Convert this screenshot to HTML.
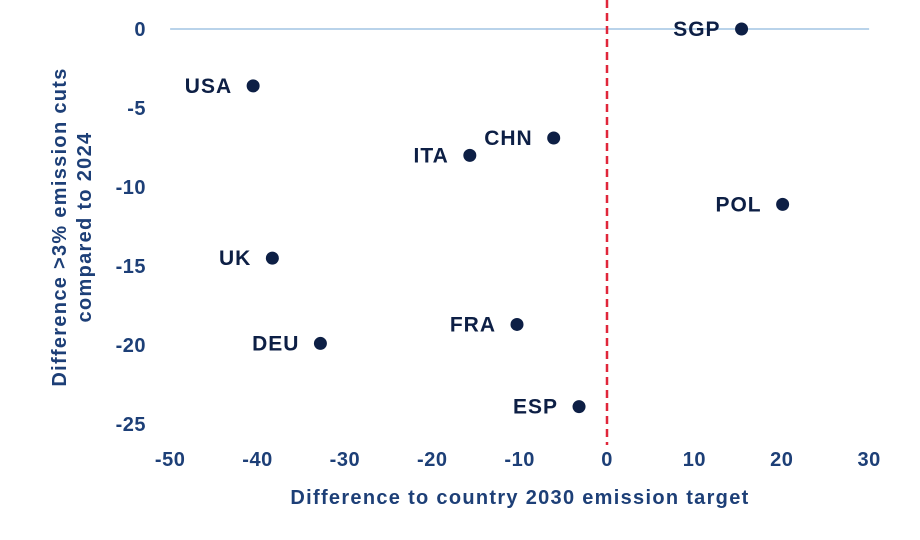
<!DOCTYPE html>
<html><head><meta charset="utf-8"><style>
body{margin:0;background:#fff;}
svg{display:block;font-family:"Liberation Sans",sans-serif;}
</style></head><body>
<svg id="chart" width="920" height="540"></svg>
<script>
const countries=["SGP","USA","CHN","ITA","POL","UK","FRA","DEU","ESP"];
const xValues=[15.4,-40.5,-6.1,-15.7,20.1,-38.3,-10.3,-32.8,-3.2];
const yValues=[0,-3.6,-6.9,-8.0,-11.1,-14.5,-18.7,-19.9,-23.9];
const xTicks=[-50,-40,-30,-20,-10,0,10,20,30];
const yTicks=[0,-5,-10,-15,-20,-25];
const NS="http://www.w3.org/2000/svg";
const svg=document.getElementById('chart');
const sx=v=>607+v*8.7375;
const sy=v=>29-v*15.8;
function mk(t,a,txt){const e=document.createElementNS(NS,t);for(const k in a)e.setAttribute(k,a[k]);if(txt!==undefined)e.textContent=txt;svg.appendChild(e);return e;}
let e;
e=mk('line',{x1:sx(-50),x2:sx(30),y1:sy(0),y2:sy(0),stroke:'#b9d3ea','stroke-width':2});


e=mk('line',{x1:sx(0),x2:sx(0),y1:0,y2:445,stroke:'#e0263a','stroke-width':2.5,'stroke-dasharray':'8,5'});


xTicks.forEach(v=>{
 e=mk('text',{x:sx(v),y:466,'text-anchor':'middle','font-size':20,'font-weight':'bold',fill:'#1d3f77','letter-spacing':'0.5'},String(v));
 
 
});
yTicks.forEach(v=>{
 e=mk('text',{x:146,y:sy(v)+7,'text-anchor':'end','font-size':20,'font-weight':'bold',fill:'#1d3f77','letter-spacing':'0.5'},String(v));
 
 
});
e=mk('text',{x:520,y:504,'text-anchor':'middle','font-size':20,'font-weight':'bold',fill:'#1d3f77','letter-spacing':'1.3'},'Difference to country 2030 emission target');


e=mk('text',{transform:'translate(66,227) rotate(-90)','text-anchor':'middle','font-size':20,'font-weight':'bold',fill:'#1d3f77','letter-spacing':'1.3'},'Difference >3% emission cuts');


e=mk('text',{transform:'translate(91,227) rotate(-90)','text-anchor':'middle','font-size':20,'font-weight':'bold',fill:'#1d3f77','letter-spacing':'1.3'},'compared to 2024');


countries.forEach((c,i)=>{
 const px=sx(xValues[i]),py=sy(yValues[i]);
 e=mk('circle',{cx:px,cy:py,r:6.5,fill:'#0d1f45'});
 
 
 e=mk('text',{x:px-21,y:py+7,'text-anchor':'end','font-size':21,'font-weight':'bold',fill:'#0d1f45','letter-spacing':'1'},c);
 
 
});
</script>
</body></html>
